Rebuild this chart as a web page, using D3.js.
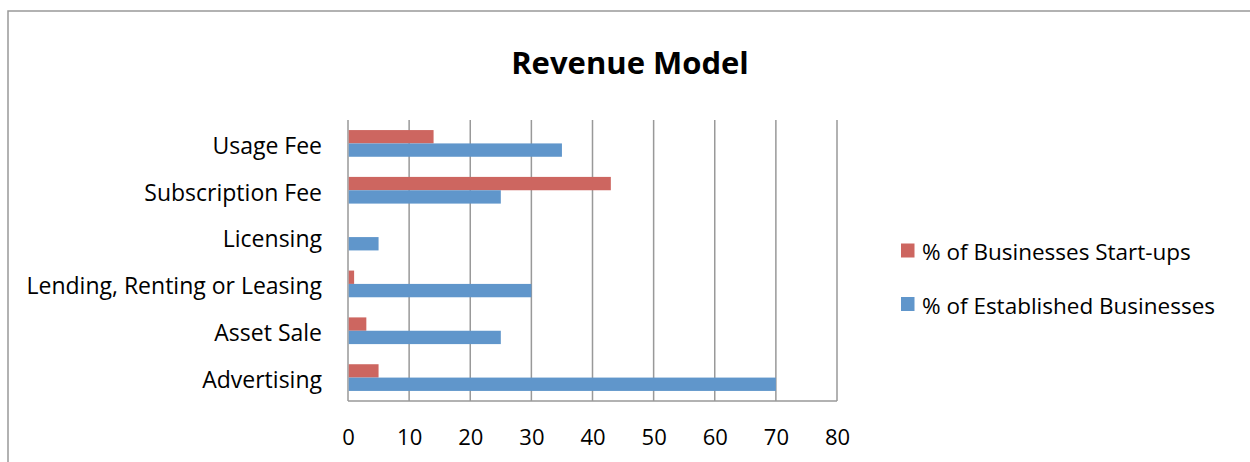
<!DOCTYPE html>
<html>
<head>
<meta charset="utf-8">
<script src="https://cdn.jsdelivr.net/npm/d3@7"></script>
<style>
  body { margin: 0; background: #fff; }
  svg text { font-family: "Open Sans", Lato, sans-serif; fill: #000; }
</style>
</head>
<body>
<script>
    // chart values
    var categories = ["Usage Fee", "Subscription Fee", "Licensing",
                      "Lending, Renting or Leasing", "Asset Sale", "Advertising"];
    var seriesNames = ["% of Businesses Start-ups", "% of Established Businesses"];
    var startUps = [14, 43, 0, 1, 3, 5];
    var established = [35, 25, 5, 30, 25, 70];
    var xTicks = [0, 10, 20, 30, 40, 50, 60, 70, 80];

    var width = 1250,
        height = 462,
        font = "'Open Sans', Lato, sans-serif",
        colors = ["#cd6660", "#6096cb"],
        plot = {left: 348, right: 837, top: 120, bottom: 401};

    var svg = d3.select("body").append("svg")
                .attr("width", width)
                .attr("height", height);

    // outer chart frame, cut off by the window on right and bottom
    svg.append("rect")
       .attr("x", 8).attr("y", 11)
       .attr("width", width + 20).attr("height", height + 20)
       .attr("fill", "none")
       .attr("stroke", "#999")
       .attr("stroke-width", 1.5);

    svg.append("text")
       .attr("x", 630).attr("y", 74)
       .attr("text-anchor", "middle")
       .style("font-size", "31px")
       .style("font-weight", "bold")
       .text("Revenue Model");

    var x = d3.scaleLinear().domain([0, 80]).range([plot.left, plot.right]);
    var y = d3.scaleBand().domain(categories)
              .range([plot.top, plot.bottom])
              .paddingInner(0.43).paddingOuter(0.215);
    var ySub = d3.scaleBand().domain([0, 1]).range([0, y.bandwidth()]);

    // vertical grid lines
    svg.append("g").selectAll("line")
       .data(xTicks)
       .enter().append("line")
       .attr("x1", function(d) { return x(d); })
       .attr("x2", function(d) { return x(d); })
       .attr("y1", plot.top).attr("y2", plot.bottom)
       .attr("stroke", "#999").attr("stroke-width", 1.5);

    svg.append("line")
       .attr("x1", plot.left).attr("x2", plot.right)
       .attr("y1", plot.bottom).attr("y2", plot.bottom)
       .attr("stroke", "#999").attr("stroke-width", 1.5);

    var xAxis = d3.axisBottom(x).tickValues(xTicks).tickSize(0).tickPadding(0);
    var gx = svg.append("g")
                .attr("transform", "translate(0," + (plot.bottom + 44) + ")")
                .call(xAxis);
    gx.select(".domain").remove();
    gx.selectAll("text").attr("dy", 0)
      .style("font-family", font)
      .style("font-size", "22px");

    var yAxis = d3.axisLeft(y).tickSize(0).tickPadding(0);
    var gy = svg.append("g")
                .attr("transform", "translate(322,0)")
                .call(yAxis);
    gy.select(".domain").remove();
    gy.selectAll("text").attr("dy", "0.45em")
      .style("font-family", font)
      .style("font-size", "23px");

    var series = [startUps, established];
    series.forEach(function(vals, s) {
        svg.append("g").selectAll("rect")
           .data(vals)
           .enter().append("rect")
           .attr("x", x(0) + 0.75)
           .attr("y", function(d, i) { return y(categories[i]) + ySub(s); })
           .attr("width", function(d) { return Math.max(0, x(d) - x(0) - 0.75); })
           .attr("height", ySub.bandwidth())
           .attr("fill", colors[s]);
    });

    var legend = svg.append("g").selectAll("g")
                    .data(seriesNames)
                    .enter().append("g")
                    .attr("transform", function(d, i) {
                        return "translate(901," + (243.5 + i * 53.5) + ")";
                    });
    legend.append("rect")
          .attr("width", 13.5).attr("height", 14)
          .attr("fill", function(d, i) { return colors[i]; });
    legend.append("text")
          .attr("x", 21).attr("y", 16.5)
          .style("font-size", "22.5px")
          .text(function(d) { return d; });
</script>
</body>
</html>
